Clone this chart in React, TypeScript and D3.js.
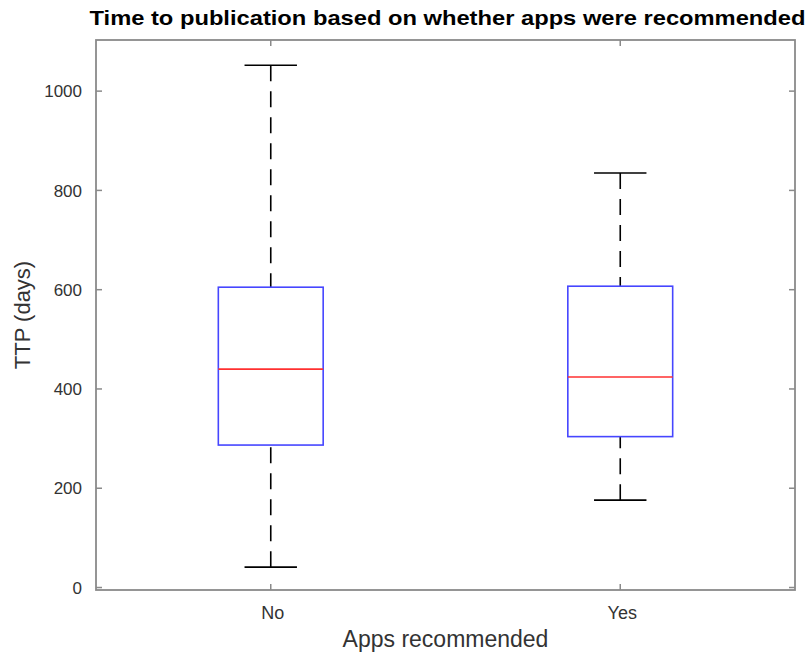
import React from "react";
import * as d3 from "d3";

const categories = ["No", "Yes"];
const whiskerLow = [41, 176];
const q1 = [287, 304];
const median = [440, 424];
const q3 = [605, 607];
const whiskerHigh = [1052, 835];
const yTicks = [0, 200, 400, 600, 800, 1000];

const W = 812;
const H = 655;
const left = 96;
const right = 795;
const top = 40;
const bottom = 590;

export default function App() {
  const x = d3.scaleLinear().domain([0.5, categories.length + 0.5]).range([left, right]);
  const y = d3.scaleLinear().domain([-5, 1103]).range([bottom, top]);
  const boxHalf = 0.15;
  const capHalf = 0.075;
  const axisColor = "#8a8a8a";
  const textColor = "#333";
  const font = "'Liberation Sans', Arial, Helvetica, sans-serif";
  const tickLen = 6;

  return (
    <svg
      width={W}
      height={H}
      style={{ position: "absolute", left: 0, top: 0, background: "#fff" }}
      fontFamily={font}
    >
      <rect x={0} y={0} width={W} height={H} fill="#fff" />
      {/* title */}
      <text
        x={(left + right) / 2 + 2}
        y={25}
        textAnchor="middle"
        fontWeight="bold"
        fontSize={21}
        fill="#000"
        textLength={716}
        lengthAdjust="spacingAndGlyphs"
      >
        Time to publication based on whether apps were recommended
      </text>

      {/* boxes */}
      {categories.map((c, i) => {
        const cx = x(i + 1);
        const x0 = x(i + 1 - boxHalf);
        const x1 = x(i + 1 + boxHalf);
        const c0 = x(i + 1 - capHalf);
        const c1 = x(i + 1 + capHalf);
        return (
          <g key={c}>
            <line x1={cx} x2={cx} y1={y(whiskerHigh[i])} y2={y(q3[i])} stroke="#000" strokeWidth={1.6} strokeDasharray="16,10" />
            <line x1={cx} x2={cx} y1={y(whiskerLow[i])} y2={y(q1[i])} stroke="#000" strokeWidth={1.6} strokeDasharray="16,10" />
            <line x1={c0} x2={c1} y1={y(whiskerHigh[i])} y2={y(whiskerHigh[i])} stroke="#000" strokeWidth={1.6} />
            <line x1={c0} x2={c1} y1={y(whiskerLow[i])} y2={y(whiskerLow[i])} stroke="#000" strokeWidth={1.6} />
            <rect
              x={x0}
              y={y(q3[i])}
              width={x1 - x0}
              height={y(q1[i]) - y(q3[i])}
              fill="none"
              stroke="#4646ff"
              strokeWidth={1.6}
            />
            <line x1={x0} x2={x1} y1={y(median[i])} y2={y(median[i])} stroke="#ff3030" strokeWidth={1.6} />
          </g>
        );
      })}

      {/* axes box */}
      <rect x={left} y={top} width={right - left} height={bottom - top} fill="none" stroke={axisColor} strokeWidth={1.8} />

      {/* y ticks */}
      {yTicks.map((t) => (
        <g key={t}>
          <line x1={left} x2={left + tickLen} y1={y(t)} y2={y(t)} stroke={axisColor} strokeWidth={1.5} />
          <line x1={right} x2={right - tickLen} y1={y(t)} y2={y(t)} stroke={axisColor} strokeWidth={1.5} />
          <text x={left - 14} y={y(t)} dy="0.36em" textAnchor="end" fontSize={17} fill={textColor}>
            {t}
          </text>
        </g>
      ))}

      {/* x ticks */}
      {categories.map((c, i) => (
        <g key={c}>
          <line x1={x(i + 1)} x2={x(i + 1)} y1={bottom} y2={bottom - tickLen} stroke={axisColor} strokeWidth={1.5} />
          <line x1={x(i + 1)} x2={x(i + 1)} y1={top} y2={top + tickLen} stroke={axisColor} strokeWidth={1.5} />
          <text x={x(i + 1) + 2} y={619} textAnchor="middle" fontSize={18} fill={textColor}>
            {c}
          </text>
        </g>
      ))}

      {/* axis labels */}
      <text x={(left + right) / 2} y={647} textAnchor="middle" fontSize={23} fill={textColor}>
        Apps recommended
      </text>
      <text
        transform={`translate(30, ${(top + bottom) / 2}) rotate(-90)`}
        textAnchor="middle"
        fontSize={22}
        fill={textColor}
      >
        TTP (days)
      </text>
    </svg>
  );
}
